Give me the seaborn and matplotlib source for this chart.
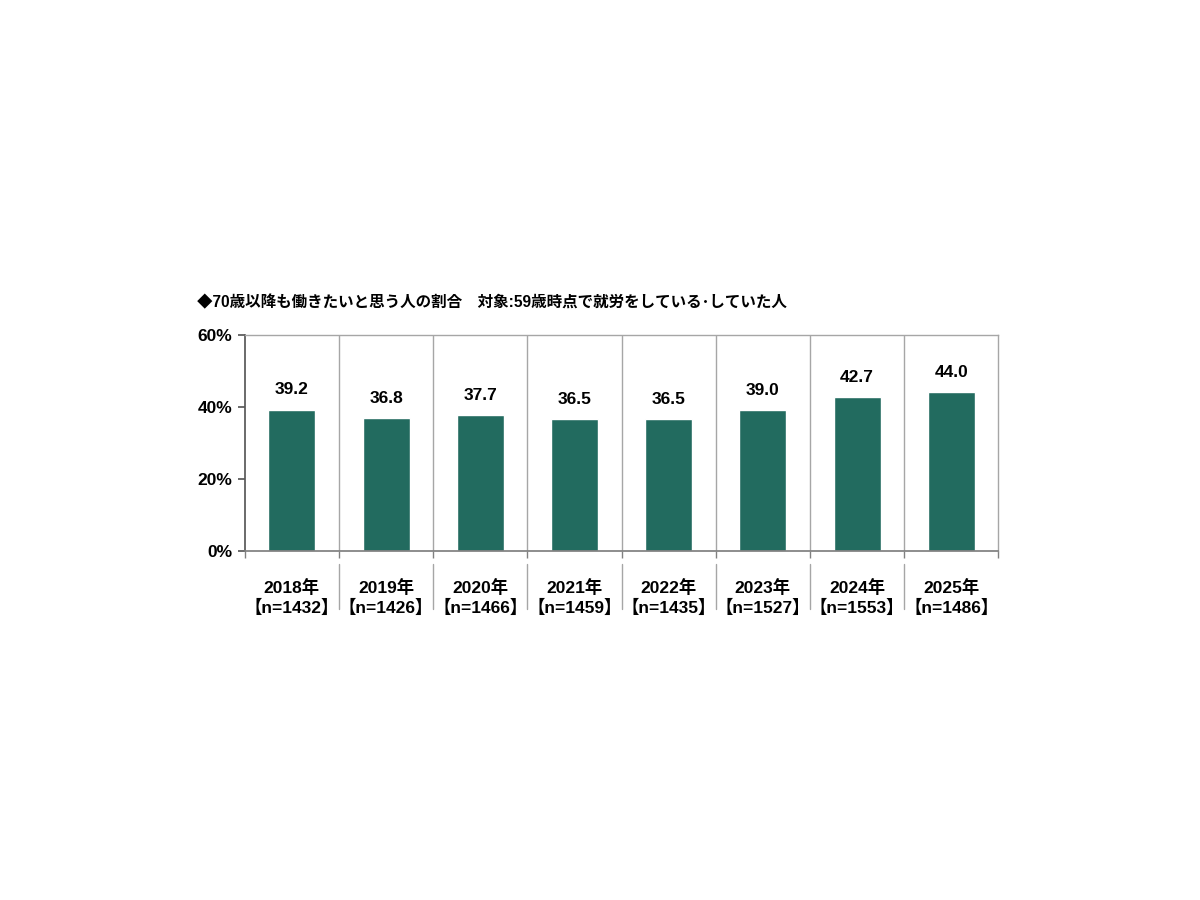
import matplotlib
matplotlib.use("Agg")
import matplotlib.pyplot as plt
import seaborn as sns
import pandas as pd
import numpy as np
from matplotlib.ticker import FixedLocator, PercentFormatter

years = ["2018年", "2019年", "2020年", "2021年", "2022年", "2023年", "2024年", "2025年"]
sample_sizes = ["【n=1432】", "【n=1426】", "【n=1466】", "【n=1459】",
                "【n=1435】", "【n=1527】", "【n=1553】", "【n=1486】"]
shares = [39.2, 36.8, 37.7, 36.5, 36.5, 39.0, 42.7, 44.0]
title = "◆70歳以降も働きたいと思う人の割合　対象:59歳時点で就労をしている･していた人"

sns.set_theme(style="white")
plt.rcParams["font.family"] = ["Liberation Sans", "Noto Sans CJK JP", "DejaVu Sans"]
plt.rcParams["text.color"] = "black"
plt.rcParams["xtick.color"] = "black"
plt.rcParams["ytick.color"] = "black"

df = pd.DataFrame({"label": [f"{y}\n{n}" for y, n in zip(years, sample_sizes)],
                   "share": shares})

fig = plt.figure(figsize=(12, 9), dpi=100)
ax = fig.add_axes([0.204, 0.388, 0.628, 0.240])

sns.barplot(data=df, x="label", y="share", color="#226b5f", saturation=1,
            width=0.5, ax=ax)

ax.set_ylim(0, 60)
ax.set_xlim(-0.5, len(shares) - 0.5)
ax.set_yticks([0, 20, 40, 60])
ax.yaxis.set_major_formatter(PercentFormatter(decimals=0))
ax.set_xlabel("")
ax.set_ylabel("")

for c in ax.containers:
    ax.bar_label(c, fmt="%.1f", padding=9, fontsize=12.5, fontweight="bold",
                 color="black")

# frame and separators
for side in ["top", "right"]:
    ax.spines[side].set_color("#a6a6a6")
    ax.spines[side].set_linewidth(1)
ax.spines["left"].set_color("#595959")
ax.spines["bottom"].set_color("#808080")
bounds = np.arange(0.5, len(shares) - 0.5, 1)
for b in bounds:
    ax.axvline(b, color="#a6a6a6", lw=1, zorder=0)
    ax.plot([b, b], [-0.06, -0.27], transform=ax.get_xaxis_transform(),
            color="#a6a6a6", lw=1, clip_on=False)

ax.tick_params(axis="y", left=True, length=5, color="#595959", labelsize=12.5, pad=4)
ax.tick_params(axis="x", bottom=False, labelsize=12.5, pad=14)
ax.xaxis.set_minor_locator(FixedLocator(np.arange(-0.5, len(shares) + 0.5, 1)))
ax.tick_params(axis="x", which="minor", bottom=True, length=5, color="#808080")
for t in ax.get_xticklabels():
    t.set_fontweight("bold")
    t.set_linespacing(1.25)
for t in ax.get_yticklabels():
    t.set_fontweight("bold")

fig.text(0.164, 0.659, title, fontsize=11.2, fontweight="bold", ha="left",
         va="baseline", color="black")

fig.savefig("out.png", dpi=100, facecolor="white")
